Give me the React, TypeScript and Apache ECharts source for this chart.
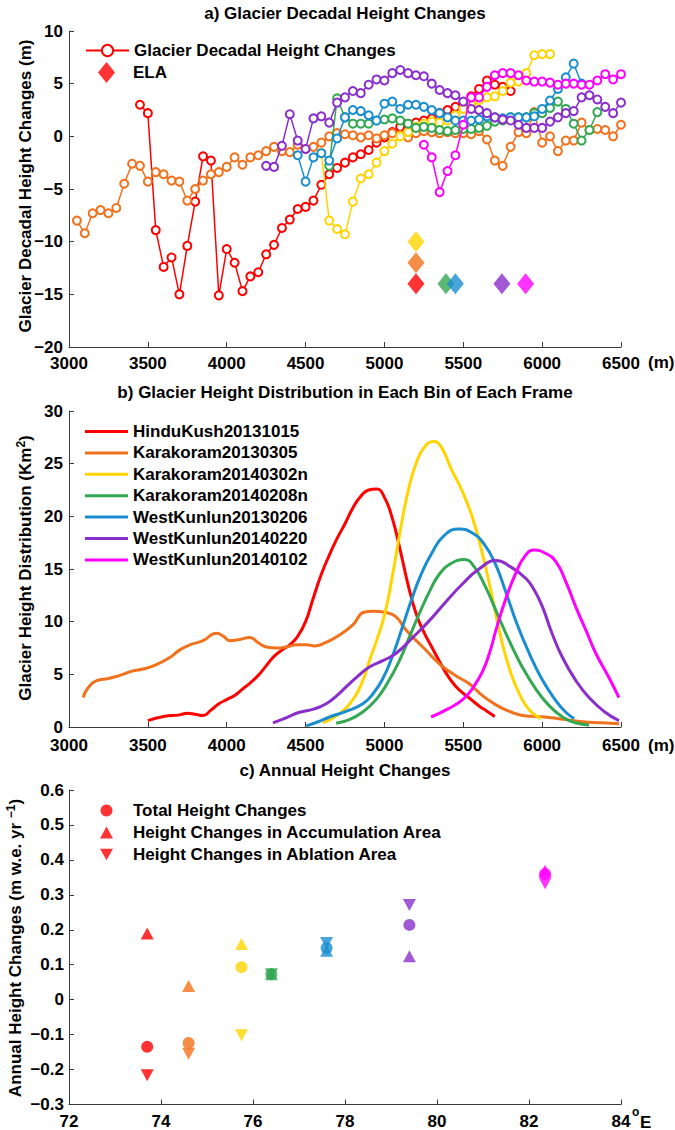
import React, { useEffect, useRef } from 'react';
import * as echarts from 'echarts';

const FONT = '"Liberation Sans", Arial, Helvetica, sans-serif';
const RED = '#ff0000';
const ORANGE = '#f2711c';
const YELLOW = '#ffd400';
const GREEN = '#33a852';
const BLUE = '#1a8dd1';
const PURPLE = '#8a2fcc';
const MAGENTA = '#ff00ff';
const PALETTE = [RED, ORANGE, YELLOW, GREEN, BLUE, PURPLE, MAGENTA];

// ---------- Panel a: decadal height changes [elevation m, change m] ----------
const decHinduKush = [[3450,3.0],[3500,2.2],[3550,-8.9],[3600,-12.4],[3650,-11.5],[3700,-15.0],[3750,-10.4],[3800,-6.2],[3850,-1.9],[3900,-2.3],[3950,-15.1],[4000,-10.7],[4050,-12.0],[4100,-14.7],[4150,-13.3],[4200,-12.9],[4250,-11.2],[4300,-10.3],[4350,-8.7],[4400,-7.9],[4450,-6.9],[4500,-6.7],[4550,-6.1],[4600,-4.6],[4650,-3.6],[4700,-3.0],[4750,-2.5],[4800,-2.0],[4850,-1.7],[4900,-1.3],[4950,-0.6],[5000,-0.1],[5050,0.4],[5100,0.9],[5150,1.2],[5200,1.3],[5250,1.5],[5300,1.7],[5350,2.2],[5400,2.5],[5450,2.8],[5500,3.2],[5550,3.8],[5600,4.5],[5650,5.3],[5700,4.9],[5750,4.7],[5800,4.3]];
const decKarakoram0305 = [[3050,-8.0],[3100,-9.2],[3150,-7.3],[3200,-7.0],[3250,-7.3],[3300,-6.8],[3350,-4.5],[3400,-2.6],[3450,-2.8],[3500,-4.3],[3550,-3.4],[3600,-3.6],[3650,-4.2],[3700,-4.3],[3750,-6.1],[3800,-5.0],[3850,-4.2],[3900,-3.6],[3950,-3.4],[4000,-2.9],[4050,-2.0],[4100,-2.7],[4150,-2.0],[4200,-1.8],[4250,-1.4],[4300,-1.0],[4350,-1.4],[4400,-1.5],[4450,-0.8],[4500,-1.2],[4550,-1.0],[4600,-0.6],[4650,0.0],[4700,0.3],[4750,0.2],[4800,0.1],[4850,-0.1],[4900,0.1],[4950,-0.2],[5000,0.1],[5050,0.3],[5100,0.1],[5150,-0.1],[5200,0.3],[5250,0.5],[5300,0.4],[5350,0.3],[5400,0.4],[5450,0.3],[5500,0.3],[5550,0.2],[5600,0.5],[5650,-0.3],[5700,-2.3],[5750,-2.8],[5800,-1.0],[5850,0.4],[5900,0.3],[5950,2.3],[6000,-0.6],[6050,0.0],[6100,-1.4],[6150,-0.4],[6200,-0.4],[6250,1.3],[6300,0.6],[6350,0.7],[6400,0.6],[6450,0.0],[6500,1.1]];
const decKarakoram0302n = [[4600,-1.6],[4650,-8.0],[4700,-8.8],[4750,-9.3],[4800,-6.2],[4850,-4.0],[4900,-3.6],[4950,-2.5],[5000,-1.4],[5050,-0.7],[5100,0.0],[5150,0.4],[5200,0.9],[5250,1.2],[5300,1.4],[5350,1.3],[5400,1.5],[5450,2.0],[5500,2.6],[5550,3.0],[5600,3.4],[5650,3.7],[5700,3.8],[5750,4.3],[5800,5.1],[5850,5.2],[5900,6.0],[5950,7.7],[6000,7.8],[6050,7.8]];
const decKarakoram0208n = [[4650,-2.8],[4700,3.6],[4750,1.8],[4800,1.2],[4850,1.2],[4900,1.2],[4950,1.5],[5000,1.6],[5050,1.7],[5100,1.5],[5150,1.2],[5200,0.8],[5250,0.9],[5300,0.8],[5350,0.6],[5400,0.5],[5450,0.6],[5500,0.7],[5550,0.7],[5600,0.8],[5650,1.0],[5700,1.4],[5750,1.5],[5800,1.8],[5850,1.8],[5900,1.8],[5950,2.2],[6000,2.2],[6050,2.7],[6100,3.3],[6150,2.6],[6200,1.2],[6250,-0.4],[6300,0.6],[6350,2.3]];
const decWestKunlun0206 = [[4450,-1.8],[4500,-4.3],[4550,-2.0],[4600,-1.6],[4650,-2.3],[4700,-0.2],[4750,1.8],[4800,2.5],[4850,2.4],[4900,2.0],[4950,1.5],[5000,3.1],[5050,3.3],[5100,2.6],[5150,3.0],[5200,3.0],[5250,2.8],[5300,2.5],[5350,2.2],[5400,1.8],[5450,1.5],[5500,1.5],[5550,1.5],[5600,1.6],[5650,1.9],[5700,1.8],[5750,1.7],[5800,1.8],[5850,1.8],[5900,1.8],[5950,1.9],[6000,2.6],[6050,3.4],[6100,4.5],[6150,5.6],[6200,6.9],[6250,5.0]];
const decWestKunlun0220 = [[4250,-2.8],[4300,-2.9],[4350,-0.9],[4400,2.1],[4450,-0.4],[4500,-1.2],[4550,1.7],[4600,1.9],[4650,1.3],[4700,3.2],[4750,3.7],[4800,4.3],[4850,4.1],[4900,4.9],[4950,5.4],[5000,5.3],[5050,6.0],[5100,6.3],[5150,6.0],[5200,5.8],[5250,5.7],[5300,5.0],[5350,4.4],[5400,4.1],[5450,3.9],[5500,3.3],[5550,2.6],[5600,2.5],[5650,2.2],[5700,1.8],[5750,1.6],[5800,1.5],[5850,1.1],[5900,0.8],[5950,0.8],[6000,0.8],[6050,1.4],[6100,1.8],[6150,2.2],[6200,2.4],[6250,3.7],[6300,3.9],[6350,3.5],[6400,2.8],[6450,2.2],[6500,3.2]];
const decWestKunlun0102 = [[5250,-0.8],[5300,-2.0],[5350,-5.3],[5400,-3.3],[5450,-1.8],[5500,1.1],[5550,3.7],[5600,3.7],[5650,4.7],[5700,5.8],[5750,6.0],[5800,6.0],[5850,5.8],[5900,5.3],[5950,5.2],[6000,5.2],[6050,5.1],[6100,4.9],[6150,5.0],[6200,5.0],[6250,4.9],[6300,4.9],[6350,5.3],[6400,5.9],[6450,5.4],[6500,5.9]];
// ELA markers (same frame order as the palette)
const elaElevation = [5200, 5200, 5200, 5390, 5450, 5745, 5895];
const elaHeight = [-14, -12, -10, -14, -14, -14, -14];

// ---------- Panel b: glacier height distribution [elevation m, km2] ----------
const frameNames = ['HinduKush20131015','Karakoram20130305','Karakoram20140302n','Karakoram20140208n','WestKunlun20130206','WestKunlun20140220','WestKunlun20140102'];
const distHinduKush = [[3500,0.6],[3600,1.0],[3700,1.15],[3750,1.3],[3800,1.2],[3850,1.1],[3900,1.6],[3950,2.2],[4000,2.6],[4050,3.0],[4100,3.6],[4150,4.2],[4200,4.9],[4250,5.8],[4300,6.7],[4350,7.3],[4400,7.8],[4450,8.6],[4500,10.0],[4550,12.3],[4600,14.5],[4650,16.3],[4700,17.9],[4750,19.3],[4800,20.8],[4850,21.9],[4900,22.5],[4950,22.6],[5000,21.8],[5050,19.8],[5100,16.8],[5150,13.5],[5200,10.8],[5250,9.0],[5300,7.6],[5350,6.2],[5400,4.9],[5450,3.9],[5500,3.2],[5550,2.6],[5600,2.0],[5650,1.5],[5700,1.0]];
const distKarakoram0305 = [[3090,2.8],[3120,3.7],[3175,4.4],[3250,4.6],[3323,4.9],[3400,5.3],[3470,5.5],[3550,5.9],[3639,6.6],[3700,7.3],[3766,7.8],[3850,8.2],[3935,8.9],[3980,8.6],[4019,8.2],[4080,8.3],[4146,8.5],[4200,8.0],[4251,7.6],[4320,7.5],[4378,7.6],[4440,7.8],[4504,7.8],[4560,7.7],[4610,7.9],[4700,8.6],[4800,9.7],[4870,10.9],[4930,11.0],[5000,10.9],[5070,10.5],[5137,9.2],[5250,7.5],[5348,6.0],[5450,4.9],[5538,4.1],[5620,3.0],[5707,2.1],[5790,1.5],[5876,1.1],[5960,1.0],[6044,0.9],[6150,0.7],[6255,0.5],[6380,0.4],[6487,0.3]];
const distKarakoram0302n = [[4610,0.4],[4700,1.1],[4800,2.6],[4863,4.4],[4905,6.3],[4950,8.2],[5000,10.6],[5050,14.3],[5100,18.6],[5150,22.4],[5200,25.0],[5250,26.5],[5310,27.1],[5360,26.6],[5420,24.6],[5496,22.3],[5560,19.8],[5620,16.5],[5680,12.6],[5740,8.4],[5800,5.2],[5860,3.0],[5920,1.6],[5992,0.8]];
const distKarakoram0208n = [[4694,0.35],[4778,0.7],[4860,1.4],[4947,2.6],[5020,4.2],[5095,6.3],[5160,8.6],[5222,10.8],[5290,13.0],[5348,14.5],[5420,15.5],[5506,15.9],[5570,15.2],[5644,13.2],[5720,10.6],[5791,8.2],[5870,5.8],[5960,3.6],[6040,2.1],[6129,0.95],[6210,0.4],[6297,0.2]];
const distWestKunlun0206 = [[4505,0.1],[4580,0.5],[4652,0.95],[4760,1.5],[4863,2.2],[4930,3.2],[4990,4.6],[5050,6.7],[5110,9.3],[5170,12.0],[5230,14.4],[5300,16.5],[5380,18.2],[5475,18.8],[5560,18.4],[5630,17.4],[5700,15.6],[5770,12.8],[5840,9.8],[5918,7.0],[6000,4.5],[6087,2.5],[6150,1.4],[6203,0.8]];
const distWestKunlun0220 = [[4293,0.4],[4380,0.9],[4462,1.4],[4550,1.7],[4631,2.2],[4700,3.0],[4757,3.8],[4830,4.8],[4905,5.7],[4990,6.3],[5074,7.0],[5180,8.5],[5285,10.1],[5390,11.9],[5496,13.6],[5600,15.0],[5707,15.8],[5800,15.2],[5897,14.1],[5950,13.0],[6002,11.4],[6060,9.0],[6129,6.6],[6210,4.5],[6297,2.8],[6400,1.4],[6487,0.6]];
const distWestKunlun0102 = [[5296,0.95],[5400,1.7],[5496,2.6],[5560,3.7],[5623,5.3],[5670,7.2],[5707,9.2],[5770,12.2],[5833,14.6],[5890,16.2],[5949,16.8],[6020,16.5],[6087,15.7],[6150,13.8],[6213,11.4],[6280,9.1],[6340,7.0],[6420,4.8],[6487,2.8]];

// ---------- Panel c: annual height changes by longitude ----------
const longitudes = [73.7, 74.6, 75.75, 76.4, 77.6, 79.4, 82.35];
const totalChange = [-0.135, -0.124, 0.093, 0.073, 0.148, 0.214, 0.36];
const accumulationChange = [0.189, 0.039, 0.159, 0.073, 0.14, 0.124, 0.369];
const ablationChange = [-0.216, -0.155, -0.102, 0.073, 0.162, 0.271, 0.333];

const AXIS_COLOR = '#3a3a3a';
const labelStyle = { color: '#000', fontSize: 17, fontWeight: 'bold', fontFamily: FONT };

function makeAxis(extra: any) {
  return {
    type: 'value',
    axisLine: { show: true, onZero: false, lineStyle: { color: AXIS_COLOR, width: 1 } },
    axisTick: { show: true, inside: true, length: 5, lineStyle: { color: AXIS_COLOR, width: 1 } },
    splitLine: { show: false },
    ...extra,
    axisLabel: { ...labelStyle, lineHeight: 14, showMinLabel: true, showMaxLabel: true, formatter: (v: number) => String(v), ...(extra.axisLabel || {}) },
  };
}

const minusFmt = (v: number) => String(v).replace('-', '\u2212');
const decFmt = (v: number) => (Math.abs(v) < 1e-9 ? '0' : v.toFixed(1).replace('-', '\u2212'));

function text(x: number, y: number, t: string, opts: any = {}) {
  const { rotation, rich, fontSize, align, vAlign } = opts;
  return {
    type: 'text', x, y, rotation: rotation || 0, silent: true,
    style: {
      text: t, fill: '#000', fontSize: fontSize || 17, fontWeight: 'bold', fontFamily: FONT,
      align: align || 'center', textAlign: align || 'center',
      verticalAlign: vAlign || 'middle', textVerticalAlign: vAlign || 'middle',
      lineHeight: 20,
      rich: rich,
    },
  };
}

const supRich = { sup: { fontSize: 12, fontWeight: 'bold', fontFamily: FONT, fill: '#000', verticalAlign: 'top', lineHeight: 20 } };

function buildOption() {
  const decadal = [decHinduKush, decKarakoram0305, decKarakoram0302n, decKarakoram0208n, decWestKunlun0206, decWestKunlun0220, decWestKunlun0102];
  const dist = [distHinduKush, distKarakoram0305, distKarakoram0302n, distKarakoram0208n, distWestKunlun0206, distWestKunlun0220, distWestKunlun0102];

  const series: any[] = [];
  decadal.forEach((d, i) => {
    series.push({
      type: 'line', name: i === 0 ? 'Glacier Decadal Height Changes' : 'decadal-' + frameNames[i],
      xAxisIndex: 0, yAxisIndex: 0, data: d,
      symbol: 'emptyCircle', symbolSize: 8, showSymbol: true,
      lineStyle: { color: PALETTE[i], width: 1.5 },
      itemStyle: { color: PALETTE[i], borderWidth: 1.5 },
      z: 2 + i,
    });
  });
  series.push({
    type: 'scatter', name: 'ELA', xAxisIndex: 0, yAxisIndex: 0,
    symbol: 'diamond', symbolSize: [17, 21],
    itemStyle: { color: RED },
    data: elaElevation.map((e, i) => ({ value: [e, elaHeight[i]], itemStyle: { color: PALETTE[i] } })),
    z: 20,
  });
  dist.forEach((d, i) => {
    series.push({
      type: 'line', name: frameNames[i], xAxisIndex: 1, yAxisIndex: 1, data: d,
      smooth: 0.5, symbol: 'none', showSymbol: false,
      lineStyle: { color: PALETTE[i], width: 3 }, itemStyle: { color: PALETTE[i] },
      z: 2 + i,
    });
  });
  const cSets = [
    { name: 'Total Height Changes', vals: totalChange, symbol: 'circle', size: 12 },
    { name: 'Height Changes in Accumulation Area', vals: accumulationChange, symbol: 'triangle', size: [13, 12] },
    { name: 'Height Changes in Ablation Area', vals: ablationChange, symbol: 'path://M0,0L20,0L10,18Z', size: [13, 12] },
  ];
  cSets.forEach((s, k) => {
    series.push({
      type: 'scatter', name: s.name, xAxisIndex: 2, yAxisIndex: 2,
      symbol: s.symbol, symbolSize: s.size, itemStyle: { color: RED },
      data: longitudes.map((lon, i) => ({ value: [lon, s.vals[i]], itemStyle: { color: PALETTE[i] } })),
      z: 5 + k,
    });
  });

  const legendBase = {
    orient: 'vertical', padding: 0, itemGap: 5,
    selectedMode: false,
  };
  const legendText = (padLeft: number) => ({ ...labelStyle, padding: [0, 0, 0, padLeft] });

  return {
    animation: false,
    backgroundColor: '#fff',
    grid: [
      { left: 69, width: 552, top: 31, height: 316 },
      { left: 69, width: 552, top: 411, height: 316 },
      { left: 69, width: 552, top: 790, height: 316 },
    ],
    xAxis: [
      makeAxis({ gridIndex: 0, min: 3000, max: 6500, interval: 500, axisLabel: { margin: 9 } }),
      makeAxis({ gridIndex: 1, min: 3000, max: 6500, interval: 500, axisLabel: { margin: 11 } }),
      makeAxis({ gridIndex: 2, min: 72, max: 84, interval: 2, axisLabel: { margin: 10 } }),
    ],
    yAxis: [
      makeAxis({ gridIndex: 0, min: -20, max: 10, interval: 5, axisLabel: { formatter: minusFmt, margin: 6 } }),
      makeAxis({ gridIndex: 1, min: 0, max: 30, interval: 5, axisLabel: { margin: 6 } }),
      makeAxis({ gridIndex: 2, min: -0.3, max: 0.6, interval: 0.1, axisLabel: { formatter: decFmt, margin: 5 } }),
    ],
    legend: [
      { ...legendBase, left: 85, top: 42, itemWidth: 43, itemHeight: 14, textStyle: legendText(0), data: ['Glacier Decadal Height Changes'] },
      { ...legendBase, left: 98, top: 62, itemWidth: 17, itemHeight: 21, textStyle: legendText(13), data: ['ELA'] },
      { ...legendBase, left: 85, top: 423, itemWidth: 43, itemHeight: 3, icon: 'rect', itemGap: 4.4, textStyle: legendText(0), data: frameNames },
      { ...legendBase, left: 100, top: 802, itemWidth: 13, itemHeight: 12, textStyle: legendText(15), data: cSets.map((s) => s.name) },
    ],
    graphic: [
      text(345, 13, 'a) Glacier Decadal Height Changes'),
      text(345, 392, 'b) Glacier Height Distribution in Each Bin of Each Frame'),
      text(345, 770, 'c) Annual Height Changes'),
      text(25, 186, 'Glacier Decadal Height Changes (m)', { rotation: Math.PI / 2 }),
      text(25, 568, 'Glacier Height Distribution (Km{sup|2})', { rotation: Math.PI / 2, rich: supRich }),
      text(15, 948, 'Annual Height Changes (m w.e. yr {sup|\u22121})', { rotation: Math.PI / 2, rich: supRich }),
      text(648, 362, '(m)', { align: 'left' }),
      text(648, 745, '(m)', { align: 'left' }),
      text(632, 1112, 'o', { align: 'left', fontSize: 12 }),
      text(640, 1122, 'E', { align: 'left' }),
    ],
    series,
  };
}

export default function App() {
  const ref = useRef<HTMLDivElement>(null);
  useEffect(() => {
    document.body.style.margin = '0';
    const chart = echarts.init(ref.current as HTMLDivElement, null, { renderer: 'svg' });
    chart.setOption(buildOption() as any);
    return () => chart.dispose();
  }, []);
  return (
    <div
      ref={ref}
      style={{ position: 'absolute', left: 0, top: 0, width: 675, height: 1130, background: '#fff' }}
    />
  );
}
